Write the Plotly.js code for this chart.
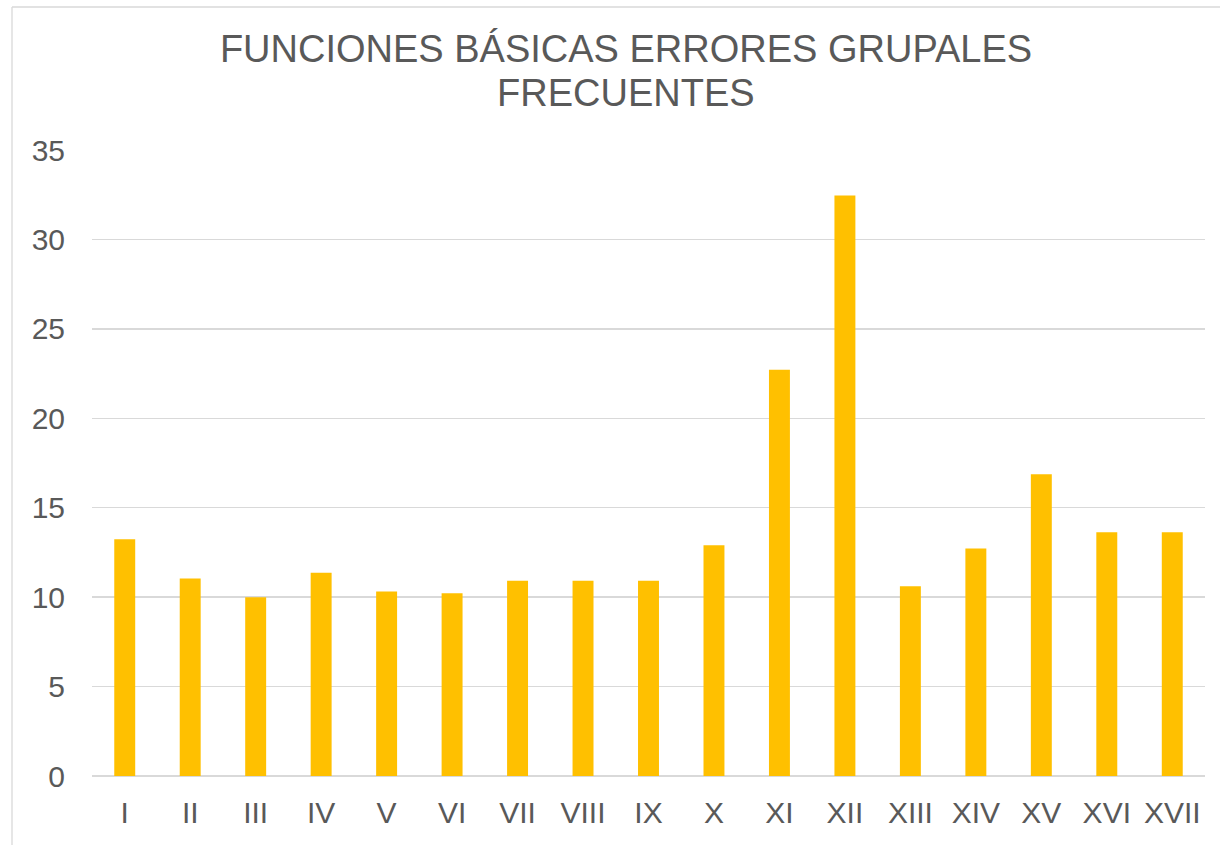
<!DOCTYPE html>
<html>
<head>
<meta charset="utf-8">
<script src="https://cdn.plot.ly/plotly-3.0.1.min.js"></script>
<style>html,body{margin:0;padding:0;background:#fff;}#chart{width:1220px;height:845px;}</style>
</head>
<body>
<div id="chart"></div>
<script>
const categories = ["I","II","III","IV","V","VI","VII","VIII","IX","X","XI","XII","XIII","XIV","XV","XVI","XVII"];
const values = [13.24, 11.04, 10.0, 11.36, 10.32, 10.22, 10.91, 10.91, 10.91, 12.9, 22.72, 32.46, 10.61, 12.72, 16.87, 13.63, 13.63];
const yTicks = [0, 5, 10, 15, 20, 25, 30, 35];
const titleLine1 = "FUNCIONES BÁSICAS ERRORES GRUPALES";
const titleLine2 = "FRECUENTES";

const font = "Liberation Sans, Arial, sans-serif";
const trace = {
  type: "bar",
  x: categories,
  y: values,
  marker: {color: "#FFC000", line: {width: 0}},
  hoverinfo: "x+y"
};
const layout = {
  width: 1220, height: 845,
  margin: {l: 92, r: 15, t: 150, b: 69},
  paper_bgcolor: "#ffffff", plot_bgcolor: "#ffffff",
  bargap: 0.68,
  showlegend: false,
  title: {
    text: titleLine1,
    font: {family: font, size: 38, color: "#595959"},
    x: 626/1220, xref: "container", xanchor: "center",
    y: 1 - 49/845, yref: "container", yanchor: "middle"
  },
  annotations: [{
    text: titleLine2,
    xref: "paper", yref: "paper",
    x: (626-92)/1113, y: (776-93)/626,
    xanchor: "center", yanchor: "middle",
    showarrow: false,
    font: {family: font, size: 38, color: "#595959"}
  }],
  xaxis: {
    type: "category",
    tickfont: {family: font, size: 30, color: "#595959"},
    ticklabelstandoff: 16,
    showgrid: false, zeroline: false,
    showline: false, ticks: "", ticklen: 0,
    automargin: false
  },
  yaxis: {
    range: [0, 35],
    tickvals: yTicks,
    ticktext: yTicks.map(String),
    tickfont: {family: font, size: 30, color: "#595959"},
    ticklabelstandoff: 26,
    showgrid: true, gridcolor: "#D9D9D9", gridwidth: 1.3,
    zeroline: true, zerolinecolor: "#D9D9D9", zerolinewidth: 1.3,
    showline: false, ticks: "", ticklen: 0,
    automargin: false
  },
  shapes: [
    {type: "line", xref: "paper", yref: "paper", x0: (12-92)/1113, x1: (1220-92)/1113, y0: (776-7)/626, y1: (776-7)/626, line: {color: "#D9D9D9", width: 1.3}},
    {type: "line", xref: "paper", yref: "paper", x0: (12-92)/1113, x1: (12-92)/1113, y0: (776-7)/626, y1: (776-845)/626, line: {color: "#D9D9D9", width: 1.3}}
  ]
};
Plotly.newPlot("chart", [trace], layout, {displayModeBar: false, staticPlot: true});
</script>
</body>
</html>
